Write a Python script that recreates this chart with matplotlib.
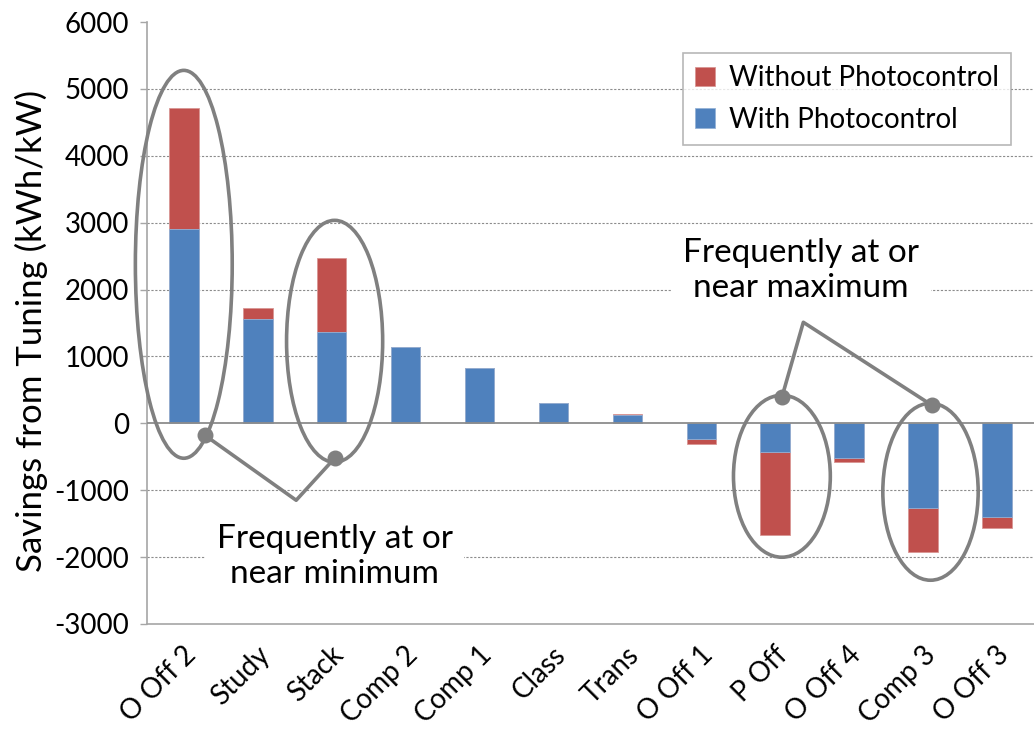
import matplotlib
matplotlib.use("Agg")
import matplotlib.pyplot as plt
from matplotlib.patches import Ellipse
import matplotlib.transforms as mtrans
import numpy as np

plt.rcParams['font.family'] = ['Lato', 'DejaVu Sans']

categories = ["O Off 2", "Study", "Stack", "Comp 2", "Comp 1", "Class", "Trans",
              "O Off 1", "P Off", "O Off 4", "Comp 3", "O Off 3"]
without_pc = [4710, 1720, 2470, 1140, 822, 300, 140, -310, -1670, -580, -1930, -1570]
with_pc = [2900, 1555, 1360, 1140, 822, 300, 120, -240, -430, -520, -1270, -1400]
yticks = [-3000, -2000, -1000, 0, 1000, 2000, 3000, 4000, 5000, 6000]

RED = "#C0504D"
BLUE = "#4F81BD"
GRAY = "#808080"

fig = plt.figure(figsize=(10.34, 7.34), dpi=100)
ax = fig.add_axes([0.142, 0.150, 0.858, 0.820])

x = np.arange(len(categories))
ax.bar(x, without_pc, width=0.4, color=RED, edgecolor="#d99694", linewidth=0.6,
       label="Without Photocontrol", zorder=3)
ax.bar(x, with_pc, width=0.4, color=BLUE, edgecolor="#95b3d7", linewidth=0.6,
       label="With Photocontrol", zorder=3)

ax.set_xlim(-0.5, len(categories) - 0.5)
ax.set_ylim(-3000, 6000)
ax.set_yticks(yticks)
ax.set_yticklabels([str(v) for v in yticks], fontsize=20)
for v in yticks:
    if v not in (0, -3000, 6000):
        ax.axhline(v, color="#8c8c8c", lw=0.8, ls=(0, (2, 1.5)), zorder=1)
ax.axhline(0, color="#8c8c8c", lw=1.3, zorder=4)

for s in ["top", "right"]:
    ax.spines[s].set_visible(False)
ax.spines["left"].set_color("#a6a6a6")
ax.spines["bottom"].set_color("#a6a6a6")
ax.spines["left"].set_linewidth(1.2)
ax.spines["bottom"].set_linewidth(1.2)
ax.tick_params(axis="y", direction="out", length=5, width=1, color="#a6a6a6", pad=8)
ax.tick_params(axis="x", length=0)
ax.set_xticks(x)
ax.set_xticklabels(categories, fontsize=20, rotation=45, ha="right", va="center",
                   rotation_mode="anchor")
offset = mtrans.ScaledTranslation(0.08, -0.22, fig.dpi_scale_trans)
for lbl in ax.get_xticklabels():
    lbl.set_transform(lbl.get_transform() + offset)

fig.text(31 / 1034, 1 - 331 / 734, "Savings from Tuning (kWh/kW)", fontsize=25,
         rotation=90, ha="center", va="center")

leg = ax.legend(loc="upper right", bbox_to_anchor=(0.99, 0.972), fontsize=20,
                frameon=True, fancybox=False, edgecolor="#a6a6a6",
                handlelength=0.7, handleheight=0.7, handletextpad=0.5,
                borderpad=0.45, labelspacing=0.55)
leg.get_frame().set_linewidth(1.2)

# annotation shapes
ell_kw = dict(fill=False, edgecolor=GRAY, lw=2.6, zorder=6, clip_on=False)
for (cx, cy, w, h) in [(0.0, 2377, 1.31, 5800), (2.04, 1226, 1.30, 3617),
                       (8.09, -792, 1.31, 2422), (10.10, -1024, 1.29, 2646)]:
    ax.add_patch(Ellipse((cx, cy), w, h, **ell_kw))

line_kw = dict(color=GRAY, lw=2.6, zorder=6, solid_capstyle="round", clip_on=False)
ax.plot([0.285, 1.52, 2.04], [-179, -1151, -523], **line_kw)
ax.plot([8.09, 8.38, 10.12], [389, 1510, 269], **line_kw)
ax.scatter([0.285, 2.04, 8.09, 10.12], [-179, -523, 389, 269], s=110, color=GRAY,
           zorder=7, clip_on=False)

bbox = dict(boxstyle="square,pad=0.35", fc="white", ec="none")
ax.text(2.04, -1990, "Frequently at or\nnear minimum", fontsize=24, ha="center",
        va="center", linespacing=1.2, bbox=bbox, zorder=8)
ax.text(8.35, 2290, "Frequently at or\nnear maximum", fontsize=24, ha="center",
        va="center", linespacing=1.2, bbox=bbox, zorder=8)

fig.savefig("out.png", dpi=100)
